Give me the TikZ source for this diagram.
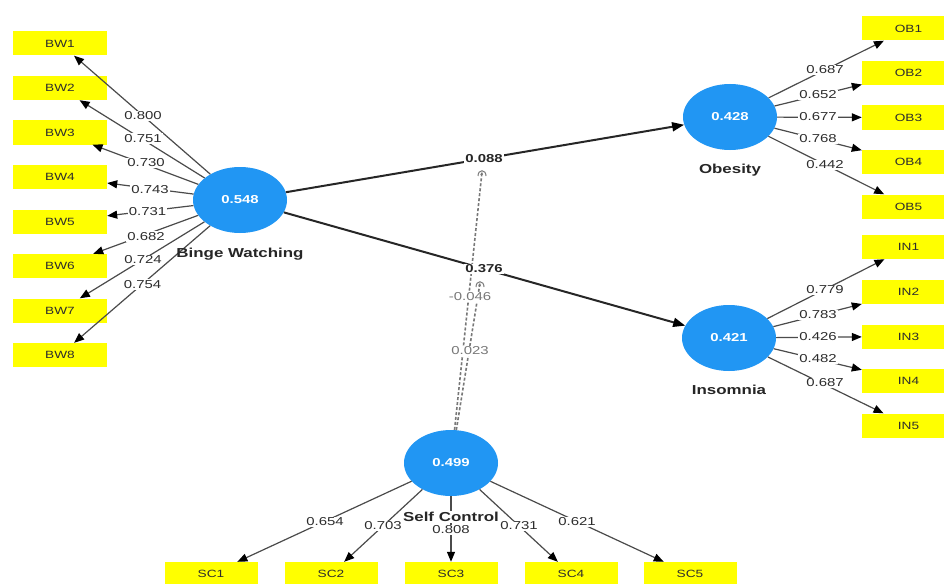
\documentclass[tikz,border=0pt]{standalone}
\usepackage{fontspec}
\setmainfont{Liberation Sans}[FakeStretch=1.3]
\usetikzlibrary{arrows.meta,calc,shapes.geometric}
\definecolor{lvblue}{RGB}{33,150,243}
\definecolor{indyellow}{RGB}{255,255,0}
\definecolor{lineg}{RGB}{75,75,75}
\definecolor{txtg}{RGB}{45,45,45}
\definecolor{modg}{RGB}{120,120,120}
\begin{document}
\begin{tikzpicture}[x=1pt,y=-1pt,
  lv/.style={ellipse, fill=lvblue, minimum width=94pt, minimum height=66pt, inner sep=0pt, text=white, font=\bfseries\fontsize{11.5}{12}\selectfont},
  ind/.style={rectangle, fill=indyellow, minimum width=93pt, minimum height=24pt, inner sep=0pt, text=txtg, font=\fontsize{10.5}{12}\selectfont},
  load/.style={draw=lineg, line width=1.2pt, -{Triangle[length=10pt,width=8pt,color=black]}},
  spath/.style={draw=black!85, line width=2pt, -{Triangle[length=12pt,width=9pt,color=black]}},
  lbl/.style={fill=white, inner sep=1pt, text=txtg, font=\fontsize{11.5}{12}\selectfont},
  plbl/.style={fill=white, inner sep=1pt, text=black!85, font=\bfseries\fontsize{11.5}{12}\selectfont},
  mlbl/.style={fill=white, inner sep=1pt, text=modg, font=\fontsize{11.5}{12}\selectfont},
  lvname/.style={font=\bfseries\fontsize{13}{14}\selectfont, text=black!85, inner sep=1pt},
  mod/.style={draw=modg, line width=1.6pt, dash pattern=on 3pt off 2pt, -{Stealth[length=3pt,width=3pt]}},
  modarc/.style={draw=modg, line width=1pt}
]
\useasboundingbox (0,0) rectangle (944,583);
\fill[white] (0,0) rectangle (944,583);

% latent variables
\node[lv] (bw) at (240,200) {0.548};
\node[lv] (ob) at (730,117) {0.428};
\node[lv] (in) at (729,338) {0.421};
\node[lv] (sc) at (451,463) {0.499};

% indicators
\foreach \i/\y in {1/43.5,2/88,3/132.5,4/177,5/221.5,6/266,7/310.5,8/355}
  \node[ind, minimum width=94pt] (BW\i) at (60,\y) {BW\i};
\foreach \i/\y in {1/28.5,2/73,3/117.5,4/162,5/206.5}
  \node[ind] (OB\i) at (908.5,\y) {OB\i};
\foreach \i/\y in {1/247,2/292,3/336.5,4/381,5/425.5}
  \node[ind] (IN\i) at (908.5,\y) {IN\i};
\foreach \i/\x in {1/211,2/331,3/451,4/571,5/690}
  \node[ind] (SC\i) at (\x,574) {SC\i};

% loadings
\foreach \i in {1,...,8} \draw[load] (bw) -- (BW\i);
\foreach \i in {1,...,5} \draw[load] (ob) -- (OB\i);
\foreach \i in {1,...,5} \draw[load] (in) -- (IN\i);
\foreach \i in {1,...,5} \draw[load] (sc) -- (SC\i);

% structural paths
\draw[spath] (bw) -- (ob);
\draw[spath] (bw) -- (in);

% moderation
\coordinate (m1) at (482,172);
\coordinate (m2) at (480,283);
\draw[mod] (sc) -- (m1);
\draw[mod] (sc) -- (m2);
\draw[modarc] ($(m1)+(-4,4)$) .. controls ($(m1)+(-4,-3)$) and ($(m1)+(4,-3)$) .. ($(m1)+(4,4)$);
\draw[modarc] ($(m2)+(-4,4)$) .. controls ($(m2)+(-4,-3)$) and ($(m2)+(4,-3)$) .. ($(m2)+(4,4)$);

% names
\node[lvname] (bwn) at (240,254) {Binge Watching};
\node[lvname] (obn) at (730,170) {Obesity};
\node[lvname] (inn) at (729,390) {Insomnia};
\node[lvname, fill=white] (scn) at (451,517) {Self Control};

% loading labels
\node[lbl] (l1) at (143,116) {0.800};
\node[lbl] (l2) at (143,138.5) {0.751};
\node[lbl] (l3) at (146,163) {0.730};
\node[lbl] (l4) at (150,189.5) {0.743};
\node[lbl] (l5) at (147.5,212) {0.731};
\node[lbl] (l6) at (146,236.5) {0.682};
\node[lbl] (l7) at (143,260) {0.724};
\node[lbl] (l8) at (142.5,284.5) {0.754};

\node[lbl] (o1) at (825,70) {0.687};
\node[lbl] (o2) at (818,95) {0.652};
\node[lbl] (o3) at (818,117) {0.677};
\node[lbl] (o4) at (818,139) {0.768};
\node[lbl] (o5) at (825,165) {0.442};

\node[lbl] (i1) at (825,290) {0.779};
\node[lbl] (i2) at (818,315) {0.783};
\node[lbl] (i3) at (818,337) {0.426};
\node[lbl] (i4) at (818,359) {0.482};
\node[lbl] (i5) at (825,383) {0.687};

\node[lbl] (s1) at (325,522) {0.654};
\node[lbl] (s2) at (383,526) {0.703};
\node[lbl] (s3) at (451,530) {0.808};
\node[lbl] (s4) at (519,526) {0.731};
\node[lbl] (s5) at (577,522) {0.621};

% path coefficients
\node[plbl] (p1) at (484,159) {0.088};
\node[plbl] (p2) at (484,269) {0.376};
\node[mlbl] (q1) at (470,297) {-0.046};
\node[mlbl] (q2) at (470,351) {0.023};
\end{tikzpicture}
\end{document}
